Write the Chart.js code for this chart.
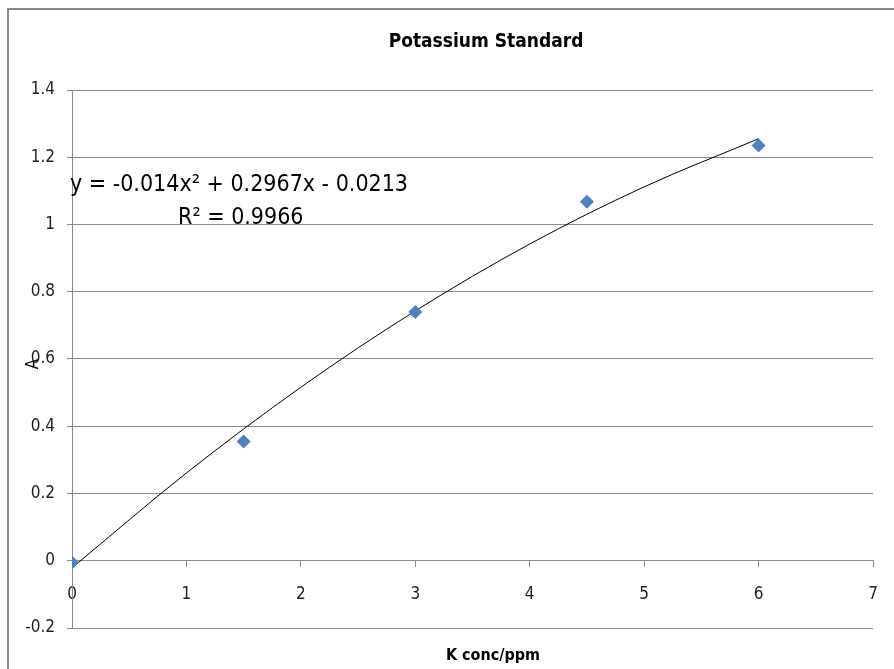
<!DOCTYPE html>
<html>
<head>
<meta charset="utf-8">
<script src="https://cdn.jsdelivr.net/npm/chart.js@4/dist/chart.umd.min.js"></script>
<style>
  html, body { margin: 0; padding: 0; background: #fff; }
  #wrap { width: 894px; height: 669px; }
</style>
</head>
<body>
<div id="wrap"><canvas id="chart" width="894" height="669"></canvas></div>
<script>
// measured standards
const kConc = [0, 1.5, 3, 4.5, 6];
const absorbance = [-0.005, 0.355, 0.74, 1.068, 1.235];

// trendline
const fitConc = [0, 1, 2, 3, 4, 5, 6];
const fitAbs = [-0.021, 0.261, 0.516, 0.743, 0.942, 1.112, 1.255];

const xTicks = [0, 1, 2, 3, 4, 5, 6, 7];
const yTicks = [-0.2, 0, 0.2, 0.4, 0.6, 0.8, 1, 1.2, 1.4];

const chartTitle = 'Potassium Standard';
const xTitle = 'K conc/ppm';
const yTitle = 'A';
const equation = 'y = -0.014x² + 0.2967x - 0.0213';
const rSquared = 'R² = 0.9966';

const FONT = '"Liberation Sans Narrow", "DejaVu Sans Condensed", sans-serif';
const GRID = '#8a8a8a';

const textPlugin = {
    id: 'excelText',
    afterDraw(chart) {
        const ctx = chart.ctx;
        ctx.save();
        ctx.fillStyle = '#000';
        ctx.textBaseline = 'middle';

        ctx.font = 'bold 19px ' + FONT;
        ctx.textAlign = 'center';
        ctx.fillText(chartTitle, 486, 42);

        ctx.font = 'bold 16px ' + FONT;
        ctx.fillText(xTitle, 493, 656);

        ctx.font = '23px ' + FONT;
        ctx.textAlign = 'left';
        ctx.fillText(equation, 70, 185);
        ctx.fillText(rSquared, 178, 218);

        ctx.translate(34, 364);
        ctx.rotate(-Math.PI / 2);
        ctx.textAlign = 'center';
        ctx.font = '17px ' + FONT;
        ctx.fillText(yTitle, 0, 0);
        ctx.restore();

        // outer chart frame
        ctx.save();
        ctx.strokeStyle = '#888';
        ctx.lineWidth = 2;
        ctx.strokeRect(8, 9, 1000, 1000);
        ctx.restore();
    }
};

new Chart(document.getElementById('chart'), {
    type: 'scatter',
    data: {
        datasets: [{
            label: 'Standards',
            data: kConc.map((x, i) => ({ x: x, y: absorbance[i] })),
            pointStyle: 'rectRot',
            pointRadius: 7,
            pointHoverRadius: 7,
            backgroundColor: '#4f81bd',
            borderColor: '#4f81bd',
            borderWidth: 0,
            order: 1
        }, {
            label: 'Poly. (Standards)',
            data: fitConc.map((x, i) => ({ x: x, y: fitAbs[i] })),
            showLine: true,
            pointRadius: 0,
            borderColor: '#000',
            borderWidth: 1,
            cubicInterpolationMode: 'monotone',
            fill: false,
            order: 2
        }]
    },
    options: {
        responsive: false,
        animation: false,
        layout: { padding: { top: 90, left: 0, right: 21, bottom: 41 } },
        plugins: {
            legend: { display: false },
            title: { display: false },
            tooltip: { enabled: false }
        },
        scales: {
            x: {
                type: 'linear',
                position: { y: 0 },
                min: 0,
                max: 7,
                afterBuildTicks: (scale) => { scale.ticks = xTicks.map(v => ({ value: v })); },
                afterFit: (scale) => { scale.paddingLeft = 0; scale.paddingRight = 0; },
                grid: { drawOnChartArea: false, color: GRID, tickLength: 6 },
                border: { color: GRID, width: 1 },
                ticks: {
                    color: '#222',
                    font: { family: FONT, size: 17 },
                    padding: 18
                }
            },
            y: {
                type: 'linear',
                min: -0.2,
                max: 1.4,
                afterBuildTicks: (scale) => { scale.ticks = yTicks.map(v => ({ value: v })); },
                afterFit: (scale) => { scale.width = 72; },
                grid: { color: GRID, tickLength: 5 },
                border: { color: GRID, width: 1 },
                ticks: {
                    color: '#222',
                    font: { family: FONT, size: 17 },
                    padding: 12,
                    callback: (v) => String(Math.round(v * 10) / 10)
                }
            }
        }
    },
    plugins: [textPlugin]
});
</script>
</body>
</html>
